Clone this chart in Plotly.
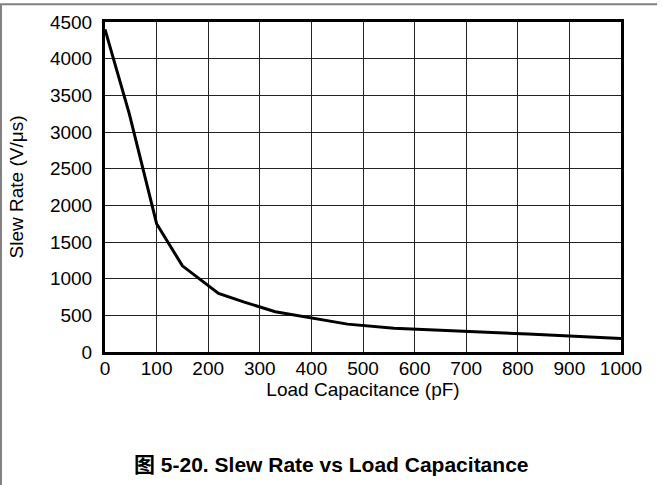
import plotly.graph_objects as go

# Data
load_capacitance_pf = [0, 47, 100, 150, 220, 270, 330, 390, 470, 560, 680, 820, 1000]
slew_rate_v_per_us = [4400, 3250, 1750, 1175, 800, 680, 550, 480, 380, 325, 290, 245, 185]

x_ticks = [0, 100, 200, 300, 400, 500, 600, 700, 800, 900, 1000]
y_ticks = [0, 500, 1000, 1500, 2000, 2500, 3000, 3500, 4000, 4500]

FONT = "Liberation Sans, Arial, Noto Sans CJK SC, sans-serif"

fig = go.Figure()
fig.add_trace(go.Scatter(
    x=load_capacitance_pf, y=slew_rate_v_per_us, mode="lines",
    line=dict(color="black", width=3), showlegend=False, hoverinfo="skip",
))

fig.update_layout(
    width=663, height=485,
    margin=dict(l=105, r=42, t=22, b=133),
    paper_bgcolor="white", plot_bgcolor="white",
    font=dict(family=FONT, size=19, color="black"),
    xaxis=dict(
        range=[0, 1000], tickvals=x_ticks, ticktext=[str(v) for v in x_ticks],
        showgrid=True, gridcolor="#222", gridwidth=1, zeroline=False,
        showline=True, linecolor="black", linewidth=3, mirror=True,
        ticks="", ticklabelstandoff=-3,
        title=dict(text="Load Capacitance (pF)", standoff=0,
                   font=dict(family=FONT, size=19)),
    ),
    yaxis=dict(
        range=[0, 4500], tickvals=y_ticks, ticktext=[str(v) for v in y_ticks],
        showgrid=True, gridcolor="#222", gridwidth=1, zeroline=False,
        showline=True, linecolor="black", linewidth=3, mirror=True,
        ticks="", ticklabelstandoff=6,
        title=dict(text="Slew Rate (V/μs)", standoff=22,
                   font=dict(family=FONT, size=19)),
    ),
    annotations=[dict(
        text="<b>图 5-20. Slew Rate vs Load Capacitance</b>",
        xref="paper", yref="paper", x=0.439, y=-0.342,
        xanchor="center", yanchor="middle", showarrow=False,
        font=dict(family=FONT, size=21, color="black"),
    )],
    shapes=[
        dict(type="line", xref="paper", yref="paper",
             x0=-0.2035, x1=1.07, y0=1.0535, y1=1.0535,
             line=dict(color="#808080", width=2)),
        dict(type="line", xref="paper", yref="paper",
             x0=-0.2016, x1=-0.2016, y0=1.0535, y1=-0.41,
             line=dict(color="#808080", width=2)),
    ],
)

fig.write_html("out.html")
